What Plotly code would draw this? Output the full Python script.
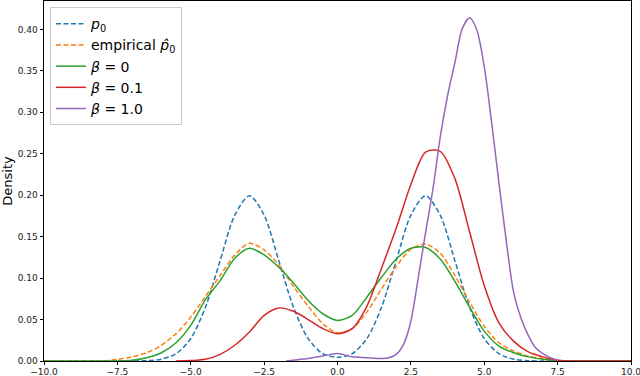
import plotly.graph_objects as go

# ---- data ----
x_grid = [-10.0, -9.5, -9.0, -8.5, -8.0, -7.5, -7.0, -6.5, -6.0, -5.5, -5.0, -4.5, -4.0, -3.5,
          -3.0, -2.5, -2.0, -1.5, -1.0, -0.5, 0.0, 0.5, 1.0, 1.5, 2.0, 2.5, 3.0, 3.5, 4.0,
          4.5, 5.0, 5.5, 6.0, 6.5, 7.0, 7.5, 8.0, 8.5, 9.0, 9.5, 10.0]

p0_vals = [0, 0, 0, 0, 0, 0, 0.0001, 0.0004, 0.0022, 0.0088, 0.027, 0.0648, 0.121, 0.176,
           0.1995, 0.176, 0.121, 0.0648, 0.027, 0.0088, 0.0044, 0.0088, 0.027, 0.0648, 0.121,
           0.176, 0.1995, 0.176, 0.121, 0.0648, 0.027, 0.0088, 0.0022, 0.0004, 0.0001, 0, 0,
           0, 0, 0, 0]

emp_vals = [0, 0, 0, 0, 0, 0.002, 0.005, 0.010, 0.019, 0.033, 0.053, 0.078, 0.103, 0.128,
            0.142, 0.134, 0.116, 0.090, 0.066, 0.045, 0.034, 0.039, 0.059, 0.087, 0.114,
            0.135, 0.141, 0.130, 0.103, 0.071, 0.042, 0.022, 0.012, 0.006, 0.003, 0.001, 0,
            0, 0, 0, 0]

beta0_vals = [0, 0, 0, 0, 0, 0, 0.001, 0.004, 0.010, 0.022, 0.043, 0.074, 0.097, 0.124,
              0.136, 0.128, 0.113, 0.094, 0.073, 0.057, 0.049, 0.055, 0.077, 0.101, 0.123,
              0.136, 0.137, 0.123, 0.096, 0.065, 0.036, 0.018, 0.010, 0.005, 0.002, 0.0005,
              0, 0, 0, 0, 0]

x_beta01 = [-5.5, -5.0, -4.5, -4.0, -3.5, -3.0, -2.5, -2.0, -1.5, -1.0, -0.5, 0.0, 0.5, 1.0,
            1.5, 2.0, 2.5, 3.0, 3.5, 4.0, 4.5, 5.0, 5.5, 6.0, 6.5, 7.0, 7.5, 8.0, 8.5, 9.0,
            9.5, 10.0]
beta01_vals = [0, 0.0005, 0.002, 0.008, 0.019, 0.035, 0.055, 0.064, 0.060, 0.050, 0.039,
               0.033, 0.039, 0.066, 0.112, 0.160, 0.213, 0.252, 0.253, 0.220, 0.156, 0.091,
               0.046, 0.024, 0.011, 0.005, 0.001, 0, 0, 0, 0, 0]

x_beta1 = [-1.75, -1.5, -1.0, -0.5, 0.0, 0.5, 1.0, 1.5, 1.75, 2.0, 2.25, 2.5, 2.75, 3.0,
           3.25, 3.5, 3.75, 4.0, 4.25, 4.5, 4.75, 5.0, 5.25, 5.5, 5.75, 6.0, 6.25, 6.5,
           6.75, 7.0, 7.25, 7.5]
beta1_vals = [0, 0.001, 0.003, 0.006, 0.009, 0.005, 0.004, 0.003, 0.004, 0.008, 0.020,
              0.048, 0.100, 0.155, 0.207, 0.270, 0.320, 0.360, 0.401, 0.414, 0.399, 0.355,
              0.288, 0.215, 0.145, 0.083, 0.052, 0.031, 0.016, 0.009, 0.004, 0.001]

x_ticks = [-10.0, -7.5, -5.0, -2.5, 0.0, 2.5, 5.0, 7.5, 10.0]
x_tick_labels = ["\u221210.0", "\u22127.5", "\u22125.0", "\u22122.5", "0.0", "2.5", "5.0", "7.5", "10.0"]
y_ticks = [0.00, 0.05, 0.10, 0.15, 0.20, 0.25, 0.30, 0.35, 0.40]
y_tick_labels = ["0.00", "0.05", "0.10", "0.15", "0.20", "0.25", "0.30", "0.35", "0.40"]

series = [
    (x_grid, p0_vals, "<i>p</i><sub>0</sub>", "#1f77b4", "5px,2.5px"),
    (x_grid, emp_vals, "empirical <i>p\u0302</i><sub>0</sub>", "#ff7f0e", "5px,2.5px"),
    (x_grid, beta0_vals, "<i>\u03b2</i> = 0", "#2ca02c", "solid"),
    (x_beta01, beta01_vals, "<i>\u03b2</i> = 0.1", "#d62728", "solid"),
    (x_beta1, beta1_vals, "<i>\u03b2</i> = 1.0", "#9467bd", "solid"),
]

fig = go.Figure()
for i, (xs, ys, name, color, dash) in enumerate(series):
    fig.add_trace(go.Scatter(
        x=xs, y=ys, mode="lines", name=name, legendgroup=f"g{i}",
        line=dict(color=color, width=1.5, dash=dash, shape="spline", smoothing=0.8),
    ))

axis_common = dict(
    showgrid=False, zeroline=False, showline=True, mirror=True,
    linecolor="black", linewidth=1, ticks="outside",
    tickcolor="black", tickwidth=1,
    tickfont=dict(family="DejaVu Sans", size=9, color="#222222"),
    automargin=False, ticklabeloverflow="allow",
)

fig.update_layout(
    width=640, height=376,
    margin=dict(l=44, r=9, t=1, b=15),
    paper_bgcolor="white", plot_bgcolor="white",
    xaxis=dict(range=[-10.0001, 10.0001], tickvals=x_ticks, ticktext=x_tick_labels,
               ticklen=2.5, **axis_common),
    yaxis=dict(range=[0, 0.4343], tickvals=y_ticks, ticktext=y_tick_labels, ticklen=3.5,
               title=dict(text="Density", standoff=4,
                          font=dict(family="DejaVu Sans", size=13, color="black")),
               **axis_common),
    legend=dict(
        x=0.0102, y=0.983, xanchor="left", yanchor="top",
        bgcolor="rgba(255,255,255,0.8)", bordercolor="#cccccc", borderwidth=1,
        font=dict(family="DejaVu Sans", size=14, color="black"),
        itemwidth=30, traceorder="grouped", tracegroupgap=0,
    ),
    showlegend=True,
)

fig.write_html("out.html", config={"displayModeBar": False},
               post_script="document.body.style.margin='0';")
